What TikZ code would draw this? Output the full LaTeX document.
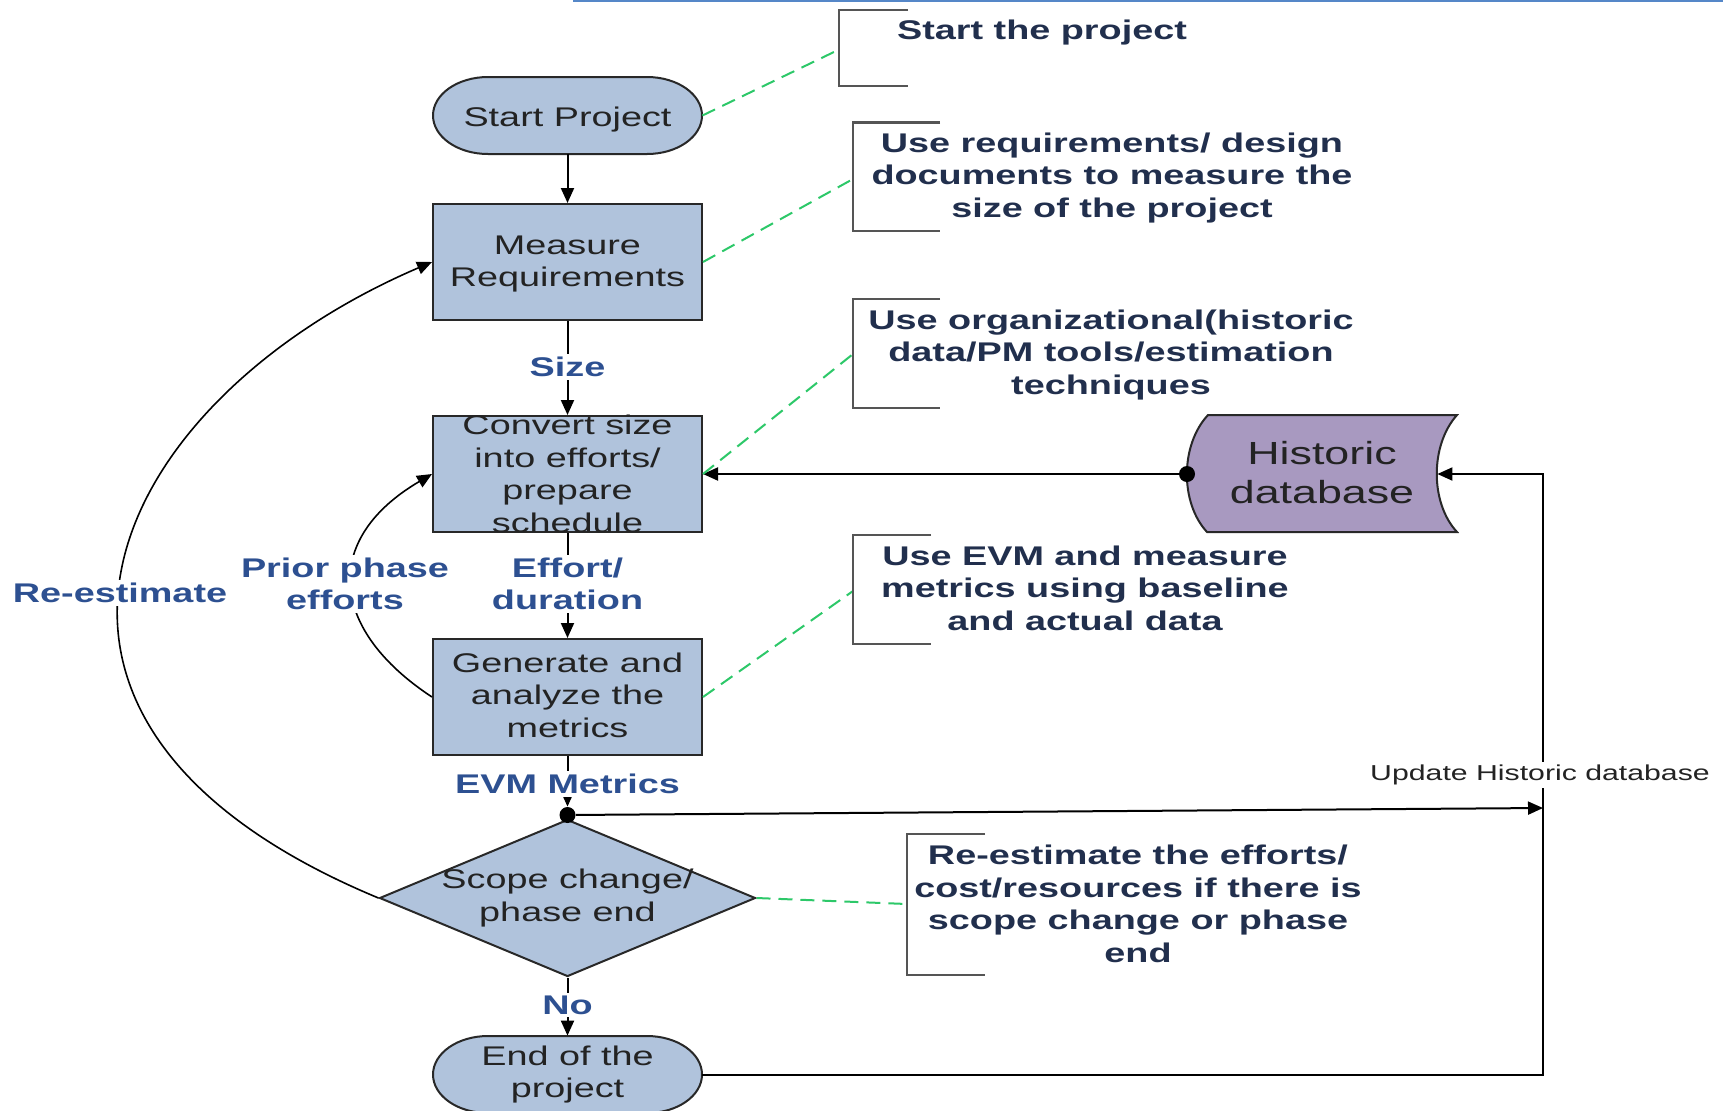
\documentclass[tikz,border=0pt]{standalone}
\usepackage{fontspec}
\setmainfont{Liberation Sans}[FakeStretch=1.4]
\usetikzlibrary{arrows.meta,shapes.geometric}
\definecolor{boxfill}{RGB}{176,195,220}
\definecolor{histfill}{RGB}{168,153,192}
\definecolor{navy}{RGB}{33,47,77}
\definecolor{lblue}{RGB}{45,80,145}
\definecolor{dgreen}{RGB}{45,200,105}
\definecolor{brk}{RGB}{85,85,85}
\definecolor{topline}{RGB}{85,135,200}
\definecolor{bord}{RGB}{40,40,40}
\definecolor{ntxt}{RGB}{35,35,35}
\tikzset{
  procbox/.style={rectangle,draw=bord,fill=boxfill,line width=1pt,minimum width=134.5pt,minimum height=58pt,inner sep=0pt},
  anchbox/.style={rectangle,inner sep=0pt},
  decbox/.style={diamond,draw=bord,fill=boxfill,line width=1pt,minimum width=188pt,minimum height=78.5pt,inner sep=0pt},
  shapeline/.style={draw=bord,fill=boxfill,line width=1pt},
  ntext/.style={align=center,inner sep=0pt,text=ntxt,font=\fontsize{13.5}{16.25}\selectfont},
  annot/.style={align=center,inner sep=0pt,text=navy,font=\bfseries\fontsize{13.5}{16.25}\selectfont},
  lbl/.style={align=center,inner sep=1.5pt,fill=white,text=lblue,font=\bfseries\fontsize{13.5}{16.25}\selectfont},
  arr/.style={draw=black,line width=1pt,-{Triangle[length=7.5pt,width=6.5pt]}},
  curvearr/.style={draw=black,line width=0.8pt,-{Triangle[length=7.5pt,width=6.5pt]}},
  gdash/.style={draw=dgreen,line width=1pt,dash pattern=on 7pt off 4pt},
  brack/.style={draw=brk,line width=1.2pt},
  dotn/.style={circle,fill=black,inner sep=0pt,minimum size=8pt},
}
\begin{document}
\begin{tikzpicture}[x=0.5pt,y=-0.5pt]
\useasboundingbox (0,0) rectangle (1723,1110);
% top rule
\draw[topline,line width=1pt] (573,1) -- (1723,1);
% terminal shapes
\path[shapeline] (488,77) -- (647,77) .. controls (677.4,77) and (702,94.2) .. (702,115.5) .. controls (702,136.8) and (677.4,154) .. (647,154) -- (488,154) .. controls (457.6,154) and (433,136.8) .. (433,115.5) .. controls (433,94.2) and (457.6,77) .. (488,77) -- cycle;
\path[shapeline] (488,1036) -- (647,1036) .. controls (677.4,1036) and (702,1053.2) .. (702,1074.5) .. controls (702,1095.8) and (677.4,1113) .. (647,1113) -- (488,1113) .. controls (457.6,1113) and (433,1095.8) .. (433,1074.5) .. controls (433,1053.2) and (457.6,1036) .. (488,1036) -- cycle;
% historic database shape
\path[draw=bord,fill=histfill,line width=1pt] (1208,415) -- (1457,415) .. controls (1430,445) and (1430,503) .. (1457,532) -- (1207,532) .. controls (1180,503) and (1180,445) .. (1208,415) -- cycle;
% nodes
\node[anchbox,minimum width=134.5pt,minimum height=38.5pt] (start) at (567.5,115.5) {};
\node[procbox] (meas) at (567.5,262) {};
\node[procbox] (conv) at (567.5,474) {};
\node[procbox] (gen) at (567.5,697) {};
\node[decbox] (dia) at (567.5,898) {};
\node[anchbox,minimum width=134.5pt,minimum height=38.5pt] (endp) at (567.5,1074.5) {};
\node[anchbox,minimum width=125pt,minimum height=58.5pt] (hist) at (1312,474) {};
\node[dotn] (d1) at (567.5,815) {};
\node[dotn] (d2) at (1187,474) {};
\coordinate (r0) at (1543,1074.5);
\coordinate (r2) at (1543,474);
\coordinate (r1) at (1543,808);
% bracket anchor points
\coordinate (b1) at (836,51);
\coordinate (b2) at (853,179);
\coordinate (b3) at (853,354);
\coordinate (b4) at (853,591);
\coordinate (b5) at (907,904);
% connectors
\draw[arr] (start) -- (meas);
\draw[arr] (meas) -- (conv);
\draw[arr] (conv) -- (gen);
\draw[arr] (gen) -- (d1);
\draw[arr] (dia) -- (endp);
\draw[arr] (d1) -- (r1);
\draw[arr] (endp.east) -- (r0) -- (r2) -- (hist.east);
\draw[arr] (d2) -- (conv.east);
\draw[curvearr] (dia.west) .. controls (-50,720) and (110,400) .. (meas.west);
\draw[curvearr] (gen.west) .. controls (330,630) and (320,540) .. (conv.west);
% green dashed
\draw[gdash] (start.east) -- (b1);
\draw[gdash] (meas.east) -- (b2);
\draw[gdash] (conv.east) -- (b3);
\draw[gdash] (gen.east) -- (b4);
\draw[gdash] (dia.east) -- (b5);
% brackets
\draw[brack] (908,10) -- (839,10) -- (839,86) -- (908,86);
\draw[brack] (940,122.5) -- (853,122.5) -- (853,231) -- (940,231);
\draw[brack] (940,299) -- (853,299) -- (853,408) -- (940,408);
\draw[brack] (931,535) -- (853,535) -- (853,644) -- (931,644);
\draw[brack] (985,834) -- (907,834) -- (907,975) -- (985,975);
% node texts
\node[ntext] (startT) at (567.5,120) {Start Project};
\node[ntext] (measT) at (567.5,264) {Measure\\Requirements};
\node[ntext] (convT) at (conv) {Convert size\\into efforts/\\prepare\\schedule};
\node[ntext] (genT) at (567.5,695) {Generate and\\analyze the\\metrics};
\node[ntext] (diaT) at (dia) {Scope change/\\phase end};
\node[ntext] (endT) at (endp) {End of the\\project};
\node[ntext,font=\fontsize{16}{19.5}\selectfont] (histT) at (1322,473) {Historic\\database};
% connector labels
\node[lbl] (lSize) at (567.5,367) {Size};
\node[lbl] (lEff) at (567.5,584) {Effort/\\duration};
\node[lbl] (lEvm) at (567.5,784) {EVM Metrics};
\node[lbl] (lNo) at (567.5,1005) {No};
\node[lbl] (lRe) at (120,593) {Re-estimate};
\node[lbl] (lPrior) at (345,584) {Prior phase\\efforts};
\node[align=center,inner sep=1.5pt,fill=white,text=ntxt,font=\fontsize{10.8}{13}\selectfont] (lUpd) at (1540,775) {Update Historic database};
% annotations
\node[annot] (a1) at (1042,33) {Start the project};
\node[annot] (a2) at (1112,178) {Use requirements/ design\\documents to measure the\\size of the project};
\node[annot] (a3) at (1111,355) {Use organizational(historic\\data/PM tools/estimation\\techniques};
\node[annot] (a4) at (1085,588) {Use EVM and measure\\metrics using baseline\\and actual data};
\node[annot] (a5) at (1138,904) {Re-estimate the efforts/\\cost/resources if there is\\scope change or phase\\end};
\end{tikzpicture}
\end{document}
